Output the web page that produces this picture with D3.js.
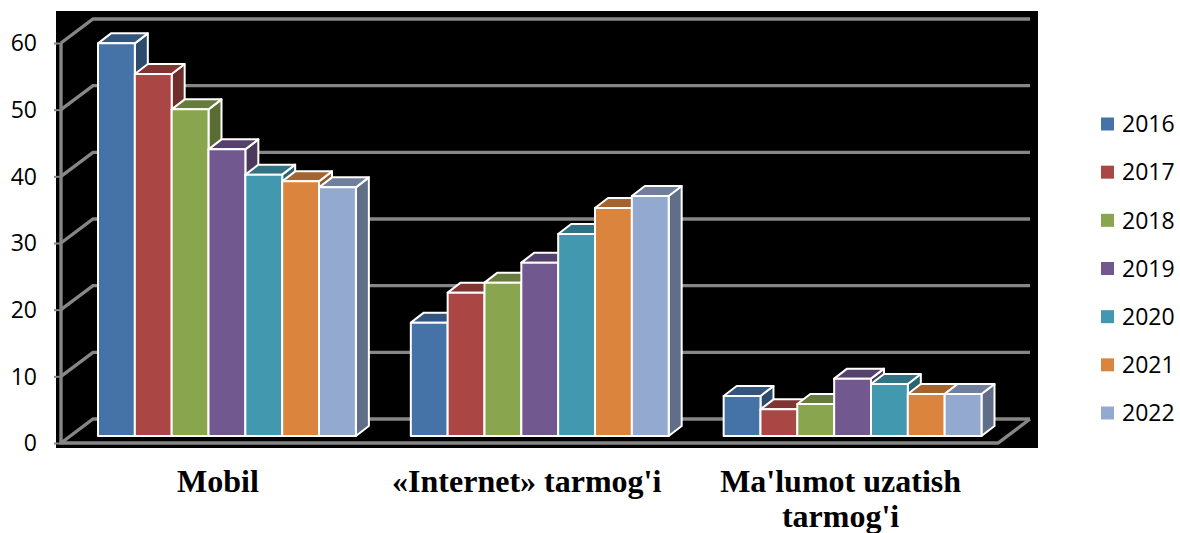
<!DOCTYPE html>
<html><head><meta charset="utf-8">
<script src="https://cdn.jsdelivr.net/npm/d3@7/dist/d3.min.js"></script>
<style>html,body{margin:0;padding:0;background:#fff;overflow:hidden}svg{display:block}</style>
</head><body><svg id="c" width="1180" height="533"></svg>
<script>
const categories = ["Mobil", "«Internet» tarmog'i", "Ma'lumot uzatish|tarmog'i"];
const years = ["2016","2017","2018","2019","2020","2021","2022"];
const v2016 = [58.9, 17, 6];
const v2017 = [54.3, 21.5, 4];
const v2018 = [49, 23, 4.8];
const v2019 = [43, 26, 8.6];
const v2020 = [39.2, 30.3, 7.8];
const v2021 = [38.2, 34.2, 6.3];
const v2022 = [37.3, 36, 6.3];
const series = [v2016,v2017,v2018,v2019,v2020,v2021,v2022];
const colors = ["#4573A7","#AA4643","#89A54E","#71588F","#4198AF","#DB843D","#93A9CF"];
const yTicks = [0,10,20,30,40,50,60];

const svg = d3.select("#c");
const y = d3.scaleLinear().domain([0,60]).range([443,43]);
const x0 = d3.scaleBand().domain(categories).range([98,981.5]).paddingInner(0.1757);
const x1 = d3.scaleBand().domain(years).range([0,x0.bandwidth()]);
const wallDx = 32, wallDy = -24, floorDy = -7, dDx = 13, dDy = -10;
const grid = "#868686";
const plotL = 61, plotR = 998;
const labelShift = [-9, -13, -12];

svg.append("rect").attr("x",56).attr("y",11).attr("width",982).attr("height",437).attr("fill","#000");

const g = svg.append("g").attr("fill","none").attr("stroke",grid).attr("stroke-width",3.4);
yTicks.forEach(t=>{
  g.append("path").attr("d",`M${plotL},${y(t)}L${plotL+wallDx},${y(t)+wallDy}L${plotR+wallDx},${y(t)+wallDy}`);
});
g.append("path").attr("d",`M${plotL},${y(60)}L${plotL},${y(0)}L${plotR},${y(0)}L${plotR+wallDx},${y(0)+wallDy}`);

const axis = svg.append("g").attr("transform",`translate(${plotL},0)`)
  .call(d3.axisLeft(y).tickValues(yTicks).tickSize(7).tickPadding(17).tickFormat(d3.format("d")));
axis.select(".domain").remove();
axis.selectAll("line").attr("stroke",grid).attr("stroke-width",2);
axis.selectAll("text").attr("fill","#000").attr("font-family","'Open Sans'").attr("font-size",23).attr("dy","0.34em");

categories.forEach((c)=>{
  years.forEach((yr,si)=>{
    const v = series[si][categories.indexOf(c)], col = colors[si];
    const xl = x0(c)+x1(yr), w = x1.bandwidth();
    const top = y(v)+floorDy, bot = y(0)+floorDy;
    const bg = svg.append("g").attr("stroke","#fff").attr("stroke-width",2).attr("stroke-linejoin","round");
    bg.append("path").attr("fill",d3.rgb(col).darker(1.2))
      .attr("d",`M${xl+w},${top}L${xl+w+dDx},${top+dDy}L${xl+w+dDx},${bot+dDy}L${xl+w},${bot}Z`);
    bg.append("path").attr("fill",d3.rgb(col).darker(0.8))
      .attr("d",`M${xl},${top}L${xl+dDx},${top+dDy}L${xl+w+dDx},${top+dDy}L${xl+w},${top}Z`);
    bg.append("rect").attr("x",xl).attr("y",top).attr("width",w).attr("height",bot-top).attr("fill",col);
  });
});

categories.forEach((c,i)=>{
  const cx = x0(c)+x0.bandwidth()/2 + labelShift[i];
  const t = svg.append("text").attr("text-anchor","middle").attr("font-family","'Liberation Serif'")
    .attr("font-weight","bold").attr("font-size",32).attr("fill","#000");
  c.split("|").forEach((ln,k)=>{
    t.append("tspan").attr("x",cx).attr("y",491.5+k*35.5).text(ln);
  });
});

const ly = d3.scalePoint().domain(years).range([124,413]);
years.forEach((yr,i)=>{
  svg.append("rect").attr("x",1101).attr("y",ly(yr)-6.5).attr("width",13).attr("height",13).attr("fill",colors[i]);
  svg.append("text").attr("x",1122).attr("y",ly(yr)).attr("dy","0.36em").attr("font-family","'Open Sans'").attr("font-size",23).attr("fill","#000").text(yr);
});
</script></body></html>
